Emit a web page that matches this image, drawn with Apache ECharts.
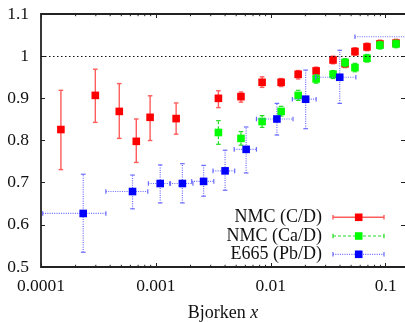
<!DOCTYPE html>
<html><head><meta charset="utf-8">
<script src="https://cdn.jsdelivr.net/npm/echarts@6/dist/echarts.min.js"></script>
<style>html,body{margin:0;padding:0;background:#fff}#c{width:405px;height:322px}</style>
</head><body><div id="c"></div>
<script>
// ---- data ----
const seriesNames = ['NMC (C/D)', 'NMC (Ca/D)', 'E665 (Pb/D)'];
const xTickLabels = ['0.0001', '0.001', '0.01', '0.1'];
const xMinorTicks = [2e-4,3e-4,4e-4,5e-4,6e-4,7e-4,8e-4,9e-4,
                     2e-3,3e-3,4e-3,5e-3,6e-3,7e-3,8e-3,9e-3,
                     2e-2,3e-2,4e-2,5e-2,6e-2,7e-2,8e-2,9e-2];
// NMC shared x bins
const xNMC = [1.49e-4, 2.97e-4, 4.8e-4, 6.75e-4, 8.9e-4, 1.5e-3, 3.5e-3, 5.5e-3, 8.4e-3,
              0.0123, 0.0173, 0.0248, 0.0348, 0.0443, 0.054, 0.0687, 0.089, 0.123];
// NMC C/D
const yCD  = [0.826, 0.907, 0.869, 0.798, 0.855, 0.852, 0.900, 0.904, 0.938,
              0.938, 0.957, 0.965, 0.991, 0.982, 1.011, 1.022, 1.029, 1.031];
const loCD = [0.731, 0.843, 0.805, 0.748, 0.800, 0.815, 0.878, 0.891, 0.926,
              0.928, 0.946, 0.956, 0.982, 0.973, 1.002, 1.013, 1.020, 1.022];
const hiCD = [0.919, 0.969, 0.935, 0.851, 0.906, 0.889, 0.918, 0.915, 0.951,
              0.947, 0.966, 0.974, 1.000, 0.991, 1.020, 1.031, 1.038, 1.040];
// NMC Ca/D (x bins = xNMC from index 6)
const yCaD  = [0.819, 0.805, 0.845, 0.869, 0.907, 0.946, 0.957, 0.985, 0.973, 0.995, 1.026, 1.029];
const loCaD = [0.791, 0.789, 0.831, 0.858, 0.895, 0.936, 0.947, 0.975, 0.963, 0.986, 1.017, 1.020];
const hiCaD = [0.847, 0.821, 0.859, 0.881, 0.919, 0.956, 0.966, 0.994, 0.983, 1.004, 1.035, 1.038];
// E665 Pb/D
const xPbD   = [2.33e-4, 6.26e-4, 1.09e-3, 1.70e-3, 2.6e-3, 4.0e-3, 6.1e-3, 0.0113, 0.0201, 0.0398, 0.2];
const yPbD   = [0.627, 0.679, 0.698, 0.698, 0.703, 0.728, 0.779, 0.851, 0.898, 0.950, 1.046];
const loPbD  = [0.535, 0.638, 0.652, 0.652, 0.668, 0.682, 0.723, 0.813, 0.828, 0.888, 1.000];
const hiPbD  = [0.720, 0.718, 0.742, 0.745, 0.741, 0.777, 0.832, 0.888, 0.967, 1.014, 1.090];
const xloPbD = [1.035e-4, 3.67e-4, 8.6e-4, 1.32e-3, 2.05e-3, 3.14e-3, 4.8e-3, 7.5e-3, 0.0154, 0.0246, 0.054];
const xhiPbD = [3.67e-4, 8.5e-4, 1.34e-3, 2.1e-3, 3.19e-3, 4.85e-3, 7.5e-3, 0.0156, 0.0248, 0.055, 0.35];

// ---- build ----
const FONT = "'Liberation Serif', 'Times New Roman', serif";
const X_MIN = 1e-4, X_MAX = 0.1472, Y_MIN = 0.5, Y_MAX = 1.1;

const styles = [
  {marker: '#ff0000', bar: '#ff5c5c', dash: null, width: 1.4},
  {marker: '#00ff00', bar: '#22dd22', dash: [3, 2], width: 1.2},
  {marker: '#0000ff', bar: '#6a6aff', dash: [1, 1.3], width: 1.2}
];

const dataCD = xNMC.map((x, i) => [x, yCD[i], loCD[i], hiCD[i]]);
const dataCaD = yCaD.map((y, i) => [xNMC[i + 6], y, loCaD[i], hiCaD[i]]);
const dataPbD = xPbD.map((x, i) => [x, yPbD[i], loPbD[i], hiPbD[i], xloPbD[i], xhiPbD[i]]);

function errRender(st) {
  return function (params, api) {
    const x = api.value(0), y = api.value(1);
    const p = api.coord([x, y]);
    const a = api.coord([x, api.value(2)]);
    const b = api.coord([x, api.value(3)]);
    const ls = {stroke: st.bar, lineWidth: st.width, lineDash: st.dash || null, fill: null};
    const cap = 2.3;
    const ch = [
      {type: 'line', shape: {x1: a[0], y1: a[1], x2: b[0], y2: b[1]}, style: ls},
      {type: 'line', shape: {x1: a[0] - cap, y1: a[1], x2: a[0] + cap, y2: a[1]}, style: Object.assign({}, ls, {lineDash: null})},
      {type: 'line', shape: {x1: b[0] - cap, y1: b[1], x2: b[0] + cap, y2: b[1]}, style: Object.assign({}, ls, {lineDash: null})}
    ];
    const xl = api.value(4), xh = api.value(5);
    if (xl != null && !isNaN(xl)) {
      const c = api.coord([xl, y]), d = api.coord([xh, y]);
      ch.push({type: 'line', shape: {x1: c[0], y1: c[1], x2: d[0], y2: d[1]}, style: ls});
      ch.push({type: 'line', shape: {x1: c[0], y1: c[1] - cap, x2: c[0], y2: c[1] + cap}, style: Object.assign({}, ls, {lineDash: null})});
      ch.push({type: 'line', shape: {x1: d[0], y1: d[1] - cap, x2: d[0], y2: d[1] + cap}, style: Object.assign({}, ls, {lineDash: null})});
    }
    const s = 7.6;
    ch.push({type: 'rect', shape: {x: p[0] - s / 2, y: p[1] - s / 2, width: s, height: s}, style: {fill: st.marker}});
    return {type: 'group', children: ch};
  };
}

const chart = echarts.init(document.getElementById('c'), null, {renderer: 'canvas'});

const axisLine = {show: true, lineStyle: {color: '#222', width: 1.8}};
const grid = {left: 41, top: 14, right: 0, bottom: 55, containLabel: false, outerBoundsMode: 'none'};

// legend drawn as graphic
const legendRows = [217.3, 236, 254.3];
const legendGraphic = [];
seriesNames.forEach((name, i) => {
  const y = legendRows[i], st = styles[i];
  legendGraphic.push({type: 'text', x: 322, y: y, style: {text: name, font: '18px ' + FONT, fill: '#111', align: 'right', verticalAlign: 'middle'}});
  const ls = {stroke: st.bar, lineWidth: st.width, lineDash: st.dash || null};
  legendGraphic.push({type: 'line', shape: {x1: 333, y1: y, x2: 384, y2: y}, style: ls});
  legendGraphic.push({type: 'line', shape: {x1: 333, y1: y - 2.3, x2: 333, y2: y + 2.3}, style: {stroke: st.bar, lineWidth: st.width}});
  legendGraphic.push({type: 'line', shape: {x1: 384, y1: y - 2.3, x2: 384, y2: y + 2.3}, style: {stroke: st.bar, lineWidth: st.width}});
  legendGraphic.push({type: 'rect', shape: {x: 358.7 - 3.8, y: y - 3.8, width: 7.6, height: 7.6}, style: {fill: st.marker}});
});

chart.setOption({
  animation: false,
  backgroundColor: '#fff',
  grid: grid,
  xAxis: [{
    type: 'log', logBase: 10, min: X_MIN, max: X_MAX, position: 'bottom',
    axisLine: axisLine,
    axisTick: {show: true, inside: true, length: 4, lineStyle: {color: '#222', width: 1}},
    splitLine: {show: false},
    axisLabel: {
      show: true, margin: 10, color: '#111', fontFamily: FONT, fontSize: 17.5,
      formatter: v => xTickLabels[Math.round(Math.log10(v)) + 4] || ''
    },
    name: 'Bjorken {i|x}', nameLocation: 'middle', nameGap: 37,
    nameTextStyle: {color: '#111', fontFamily: FONT, fontSize: 18, rich: {i: {fontStyle: 'italic', fontFamily: FONT, fontSize: 18, color: '#111'}}}
  }, {
    type: 'log', logBase: 10, min: X_MIN, max: X_MAX, position: 'top',
    axisLine: axisLine,
    axisTick: {show: true, inside: true, length: 4, lineStyle: {color: '#222', width: 1}},
    splitLine: {show: false}, axisLabel: {show: false}
  }],
  yAxis: [{
    type: 'value', min: Y_MIN, max: Y_MAX, interval: 0.1, position: 'left',
    axisLine: axisLine,
    axisTick: {show: true, inside: true, length: 4, lineStyle: {color: '#222', width: 1}},
    splitLine: {show: false},
    axisLabel: {margin: 12, color: '#111', fontFamily: FONT, fontSize: 17.5}
  }, {
    type: 'value', min: Y_MIN, max: Y_MAX, interval: 0.1, position: 'right',
    axisLine: {show: false},
    axisTick: {show: true, inside: true, length: 4, lineStyle: {color: '#222', width: 1}},
    splitLine: {show: false}, axisLabel: {show: false}
  }],
  graphic: legendGraphic,
  series: [
    {
      type: 'custom', name: 'minor', xAxisIndex: 0, yAxisIndex: 0, silent: true, z: 1,
      data: xMinorTicks.map(v => [v]),
      renderItem: function (params, api) {
        const b = api.coord([api.value(0), Y_MIN]);
        const t = api.coord([api.value(0), Y_MAX]);
        const st = {stroke: '#222', lineWidth: 1};
        return {type: 'group', children: [
          {type: 'line', shape: {x1: b[0], y1: b[1], x2: b[0], y2: b[1] - 2.2}, style: st},
          {type: 'line', shape: {x1: t[0], y1: t[1], x2: t[0], y2: t[1] + 2.2}, style: st}
        ]};
      },
      markLine: {
        silent: true, symbol: 'none', label: {show: false},
        lineStyle: {color: '#111', type: [1.5, 2.5], width: 1},
        data: [{yAxis: 1}]
      }
    },
    {type: 'custom', name: seriesNames[0], clip: true, z: 2, data: dataCD, renderItem: errRender(styles[0])},
    {type: 'custom', name: seriesNames[1], clip: true, z: 3, data: dataCaD, renderItem: errRender(styles[1])},
    {type: 'custom', name: seriesNames[2], clip: true, z: 4, data: dataPbD, renderItem: errRender(styles[2])}
  ]
});
</script>
</body></html>
